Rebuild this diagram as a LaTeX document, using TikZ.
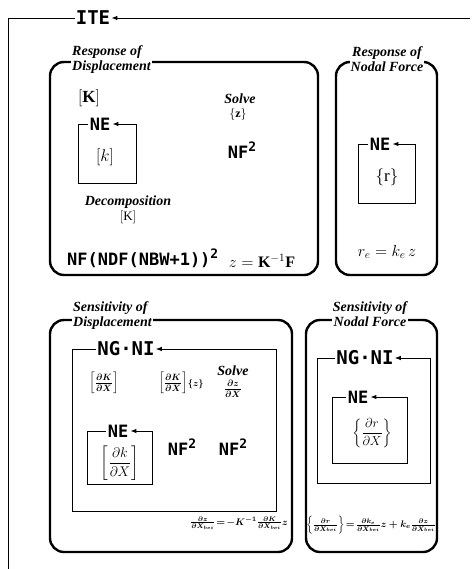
\RequirePackage{fix-cm}
\documentclass[tikz,border=0pt]{standalone}
\usepackage{amsmath}
\usepackage{fontspec}
\setmainfont{Liberation Serif}
\newfontfamily\codefont{DejaVu Sans Mono}
\usetikzlibrary{arrows.meta}
\newcommand{\sq}[0]{\raisebox{0.42em}{\fontsize{13}{13}\selectfont 2}}
\newcommand{\boucle}[5]{\coordinate (#1-nw) at (#2,#3);
 	\coordinate (#1-se) at (#4,#5);
 	\draw[loopline,arr] (#1.west) -- (#1-nw) |- (#1-se) |- (#1.east)}
\tikzset{
 panel/.style={line width=2.4pt, rounded corners=14pt},
 loopline/.style={line width=0.9pt},
 arr/.style={-{Latex[length=6pt,width=4.5pt]}},
 titre/.style={fill=white, inner sep=1pt, font=\bfseries\itshape\fontsize{14}{15}\selectfont},
 lab/.style={inner sep=0pt, font=\bfseries\itshape\fontsize{14}{15}\selectfont},
 code/.style={inner sep=2pt, font=\codefont\bfseries\fontsize{17}{17}\selectfont},
 big/.style={inner sep=1pt, font=\codefont\bfseries\fontsize{19}{19}\selectfont},
 mth/.style={inner sep=0pt, font=\fontsize{17}{17}\selectfont},
 petit/.style={inner sep=1pt, font=\boldmath\fontsize{9.6}{9.6}\selectfont},
 moyen/.style={inner sep=0pt, font=\boldmath\fontsize{13}{13}\selectfont},
}
\begin{document}
\begin{tikzpicture}[x=1pt,y=-1pt]
\useasboundingbox (0,0) rectangle (472,569);
%Iteration loop
	\node[code,big] (ite) at (93,18) {ITE};
	\coordinate (iteIn) at (470,18);
	\draw[loopline,arr] (iteIn) -- (ite.east);
	\draw[loopline] (ite.west) -- (8,18) -- (8,569);
%Response of displacement
	\draw[panel] (50,62) rectangle (318,275);
	\node[titre, anchor=north west, align=left] (rdTitle) at (71,44) {Response of\\Displacement};
	\node[mth] (rdK) at (89,98) {$[\mathbf{K}]$};
	\node[lab] (rdSolve) at (240,99) {Solve};
	\node[mth, font=\fontsize{12}{12}\selectfont] (rdZ) at (238,115) {$\{\mathbf{z}\}$};
	\node[code] (rdNE) at (100,124) {NE};
	\boucle{rdNE}{78}{124}{136}{183};
	\node[mth] (rdk) at (105,157) {$[k]$};
	\node[code] (rdNF) at (242,150) {NF\sq};
	\node[lab] (rdDec) at (128,202) {Decomposition};
	\node[mth, font=\fontsize{13}{13}\selectfont] (rdK2) at (128,217) {$[\mathrm{K}]$};
	\node[code, anchor=west] (rdCost) at (65,258) {NF(NDF(NBW+1))\sq};
	\node[mth, font=\fontsize{16}{16}\selectfont] (rdEq) at (262,261) {$z=\mathbf{K}^{-1}\mathbf{F}$};
%Response of nodal force
	\draw[panel] (336,62) rectangle (437,275);
	\node[titre, align=center] (rfTitle) at (387,59) {Response of\\Nodal Force};
	\node[code] (rfNE) at (380,144) {NE};
	\boucle{rfNE}{358}{144}{415}{203};
	\node[mth] (rfR) at (387,177) {$\{\mathrm{r}\}$};
	\node[mth, font=\fontsize{16}{16}\selectfont] (rfEq) at (387,252) {$r_e=k_e\,z$};
%Sensitivity of displacement
	\draw[panel] (50,320) rectangle (292,552);
	\node[titre, anchor=north west, align=left] (sdTitle) at (72,300) {Sensitivity of\\Displacement};
	\node[code,big] (sdNG) at (126,349) {NG·NI};
	\boucle{sdNG}{72}{349}{276}{511};
	\node[moyen] (sdA) at (104,383) {$\left[\frac{\partial K}{\partial X}\right]$};
	\node[moyen] (sdB) at (181,383) {$\left[\frac{\partial K}{\partial X}\right]\!{\scriptstyle\{z\}}$};
	\node[lab] (sdSolve) at (233,371) {Solve};
	\node[moyen] (sdDz) at (233,389) {$\frac{\partial z}{\partial X}$};
	\node[code] (sdNE) at (118,431) {NE};
	\boucle{sdNE}{87}{431}{152}{484};
	\node[mth, font=\fontsize{14}{14}\selectfont] (sdDk) at (120,463) {$\left[\dfrac{\partial k}{\partial X}\right]$};
	\node[code] (sdNF1) at (182,447) {NF\sq};
	\node[code] (sdNF2) at (233,447) {NF\sq};
	\node[petit] (sdEq) at (239,523) {$\frac{\partial z}{\partial X_{bei}}\!=\!-K^{-1}\frac{\partial K}{\partial X_{bei}}z$};
%Sensitivity of nodal force
	\draw[panel] (306,320) rectangle (437,552);
	\node[titre, align=center] (sfTitle) at (370,314) {Sensitivity of\\Nodal Force};
	\node[code,big] (sfNG) at (365,358) {NG·NI};
	\boucle{sfNG}{317}{358}{430}{483};
	\node[code] (sfNE) at (358,397) {NE};
	\boucle{sfNE}{332}{397}{407}{463};
	\node[mth, font=\fontsize{13}{13}\selectfont] (sfDr) at (372,433) {$\left\{\dfrac{\partial r}{\partial X}\right\}$};
	\node[petit] (sfEq) at (371,525) {$\left\{\frac{\partial r}{\partial X_{bei}}\right\}\!=\!\frac{\partial k_e}{\partial X_{bei}}z+k_e\frac{\partial z}{\partial X_{bei}}$};
\end{tikzpicture}
\end{document}
